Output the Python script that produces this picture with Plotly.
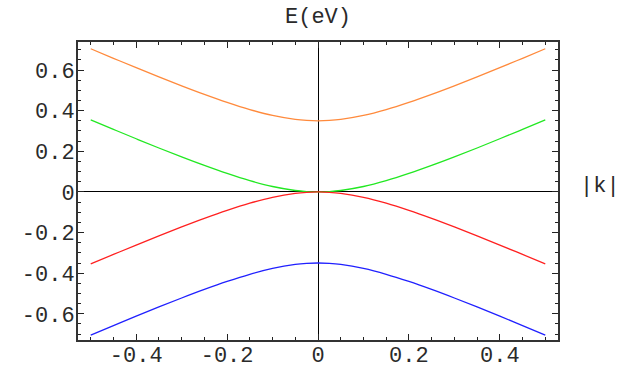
import plotly.graph_objects as go

k = [-0.5, -0.45, -0.4, -0.35, -0.3, -0.25, -0.2, -0.15, -0.1, -0.05, -0.025, 0.0,
     0.025, 0.05, 0.1, 0.15, 0.2, 0.25, 0.3, 0.35, 0.4, 0.45, 0.5]
e_outer = [0.7047, 0.6578, 0.6116, 0.5663, 0.5223, 0.4802, 0.4408, 0.4055, 0.3766, 0.3570, 0.3518, 0.35,
           0.3518, 0.3570, 0.3766, 0.4055, 0.4408, 0.4802, 0.5223, 0.5663, 0.6116, 0.6578, 0.7047]
e_inner = [0.3547, 0.3078, 0.2616, 0.2163, 0.1723, 0.1302, 0.0908, 0.0555, 0.0266, 0.0070, 0.0018, 0.0,
           0.0018, 0.0070, 0.0266, 0.0555, 0.0908, 0.1302, 0.1723, 0.2163, 0.2616, 0.3078, 0.3547]
e_inner_neg = [-v for v in e_inner]
e_outer_neg = [-v for v in e_outer]

x_ticks = [-0.4, -0.2, 0, 0.2, 0.4]
x_labels = ["-0.4", "-0.2", "0", "0.2", "0.4"]
y_ticks = [-0.6, -0.4, -0.2, 0, 0.2, 0.4, 0.6]
y_labels = ["-0.6", "-0.4", "-0.2", "0", "0.2", "0.4", "0.6"]

series = [
    (e_outer, "#FF8A3C"),
    (e_inner, "#22E822"),
    (e_inner_neg, "#FF2020"),
    (e_outer_neg, "#2020FF"),
]

fig = go.Figure()
for ys, col in series:
    fig.add_trace(go.Scatter(x=k, y=ys, mode="lines",
                             line=dict(color=col, width=1.3, shape="spline", smoothing=1.0),
                             showlegend=False, hoverinfo="skip"))

font = dict(family="Liberation Mono, Courier New, monospace", size=22, color="#2a2a2a")

axis_common = dict(
    automargin=False,
    showgrid=False, zeroline=True, zerolinecolor="black", zerolinewidth=1.2,
    showline=True, linecolor="#333", linewidth=2, mirror="allticks",
    ticks="inside", ticklen=6, tickcolor="#222", tickwidth=1.3,
    minor=dict(ticks="inside", ticklen=3, dtick=0.05, tickcolor="#222", tickwidth=1.2, showgrid=False),
    tickfont=font,
)

fig.update_layout(
    template="none",
    width=621, height=370,
    margin=dict(l=78, r=63, t=42, b=30),
    paper_bgcolor="white", plot_bgcolor="white",
    xaxis=dict(range=[-0.528, 0.528], tickmode="array", tickvals=x_ticks, ticktext=x_labels,
               ticklabelstandoff=-6, **axis_common),
    yaxis=dict(range=[-0.729, 0.738], tickmode="array", tickvals=y_ticks, ticktext=y_labels,
               ticklabelstandoff=-3, **axis_common),
    annotations=[
        dict(text="E(eV)", xref="x", yref="paper", x=0, y=1, yshift=10, yanchor="bottom",
             showarrow=False, font=font),
        dict(text="|k|", xref="paper", yref="y", x=1, y=0, xshift=20, yshift=5, xanchor="left",
             showarrow=False, font=font),
    ],
)

fig.write_html("out.html")
